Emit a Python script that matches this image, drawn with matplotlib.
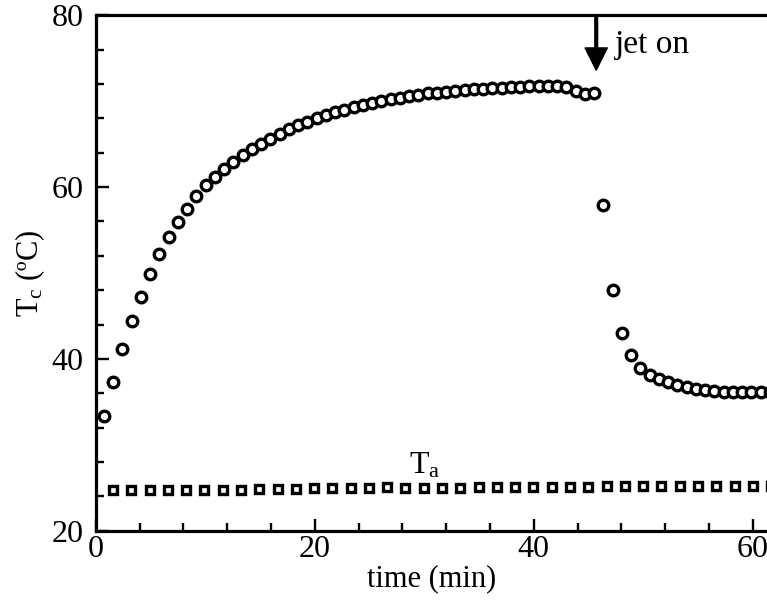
import matplotlib
matplotlib.use("Agg")
import matplotlib.pyplot as plt
from matplotlib.ticker import MultipleLocator

plt.rcParams["font.family"] = ["Liberation Serif", "DejaVu Serif"]
plt.rcParams["mathtext.fontset"] = "custom"
plt.rcParams["mathtext.rm"] = "Liberation Serif"
plt.rcParams["mathtext.it"] = "Liberation Serif:italic"

# chip temperature Tc (min, degC)
tc_time = [0.73, 1.58, 2.42, 3.27, 4.11, 4.96, 5.80, 6.65, 7.49, 8.34,
           9.18, 10.03, 10.87, 11.72, 12.56, 13.41, 14.25, 15.10, 15.94, 16.79,
           17.63, 18.48, 19.32, 20.17, 21.01, 21.86, 22.70, 23.55, 24.39, 25.24,
           26.08, 26.93, 27.77, 28.62, 29.46, 30.31, 31.15, 32.00, 32.84, 33.69,
           34.53, 35.38, 36.22, 37.07, 37.91, 38.76, 39.60, 40.45, 41.29, 42.14,
           42.98, 43.83, 44.67, 45.52, 46.36, 47.21, 48.05, 48.90, 49.74, 50.59,
           51.43, 52.28, 53.12, 53.97, 54.81, 55.66, 56.50, 57.35, 58.19, 59.04,
           59.88, 60.73, 61.57]
tc_val = [33.4, 37.3, 41.2, 44.4, 47.2, 49.9, 52.2, 54.2, 55.9, 57.4,
          59.0, 60.2, 61.2, 62.1, 62.9, 63.7, 64.4, 65.0, 65.6, 66.2,
          66.7, 67.2, 67.6, 68.0, 68.4, 68.7, 69.0, 69.3, 69.6, 69.8,
          70.0, 70.2, 70.4, 70.6, 70.7, 70.9, 71.0, 71.1, 71.2, 71.3,
          71.4, 71.4, 71.5, 71.5, 71.6, 71.6, 71.7, 71.7, 71.7, 71.7,
          71.6, 71.2, 70.8, 71.0, 57.9, 48.0, 43.0, 40.5, 38.9, 38.1,
          37.7, 37.3, 37.0, 36.7, 36.5, 36.4, 36.3, 36.2, 36.2, 36.1,
          36.1, 36.1, 36.1]

# ambient temperature Ta
ta_time = [1.56, 3.23, 4.90, 6.57, 8.24, 9.91, 11.58, 13.25, 14.92, 16.59,
           18.26, 19.93, 21.60, 23.27, 24.94, 26.61, 28.28, 29.95, 31.62, 33.29,
           34.96, 36.63, 38.30, 39.97, 41.64, 43.31, 44.98, 46.65, 48.32, 49.99,
           51.66, 53.33, 55.00, 56.67, 58.34, 60.01, 61.68]
ta_val = [24.8, 24.8, 24.8, 24.8, 24.8, 24.8, 24.8, 24.8, 24.9, 24.9,
          24.9, 25.0, 25.0, 25.0, 25.0, 25.1, 25.0, 25.0, 25.0, 25.0,
          25.1, 25.1, 25.1, 25.1, 25.1, 25.1, 25.1, 25.2, 25.2, 25.2,
          25.2, 25.2, 25.2, 25.2, 25.2, 25.2, 25.2]

jet_on_time = 45.7

fig = plt.figure(figsize=(7.67, 6.06), dpi=100)
ax = fig.add_axes([0.125, 0.124, 0.875, 0.851])

ax.plot(tc_time, tc_val, "o", ms=7.6, mfc="white", mec="black", mew=2.4)
ax.plot(ta_time, ta_val, "s", ms=5.6, mfc="white", mec="black", mew=2.4)

ax.set_xlim(0, 61.3)
ax.set_ylim(20, 80)
ax.xaxis.set_major_locator(MultipleLocator(20))
ax.xaxis.set_minor_locator(MultipleLocator(4))
ax.yaxis.set_major_locator(MultipleLocator(20))
ax.yaxis.set_minor_locator(MultipleLocator(4))

for s in ["left", "bottom", "top"]:
    ax.spines[s].set_linewidth(2.3)
ax.spines["right"].set_visible(False)

ax.tick_params(which="both", direction="in", top=False, right=False, width=1.7)
ax.tick_params(which="major", length=9, labelsize=23)
ax.tick_params(axis="x", which="major", pad=3)
ax.tick_params(axis="y", which="major", pad=9)
ax.tick_params(which="minor", length=6)

ax.set_xlabel("time (min)", fontsize=22, labelpad=0)
ax.set_ylabel(r"T$_\mathrm{c}$ (ºC)", fontsize=22, labelpad=3)

ax.text(28.6, 26.7, r"T$_\mathrm{a}$", fontsize=23, va="baseline")

ax.annotate("", xy=(jet_on_time, 73.6), xytext=(jet_on_time, 79.7),
            arrowprops=dict(facecolor="black", edgecolor="black", width=2,
                            headwidth=16, headlength=16, shrink=0))
ax.text(47.4, 75.6, "jet on", fontsize=24, va="baseline")

fig.savefig("out.png", dpi=100)
